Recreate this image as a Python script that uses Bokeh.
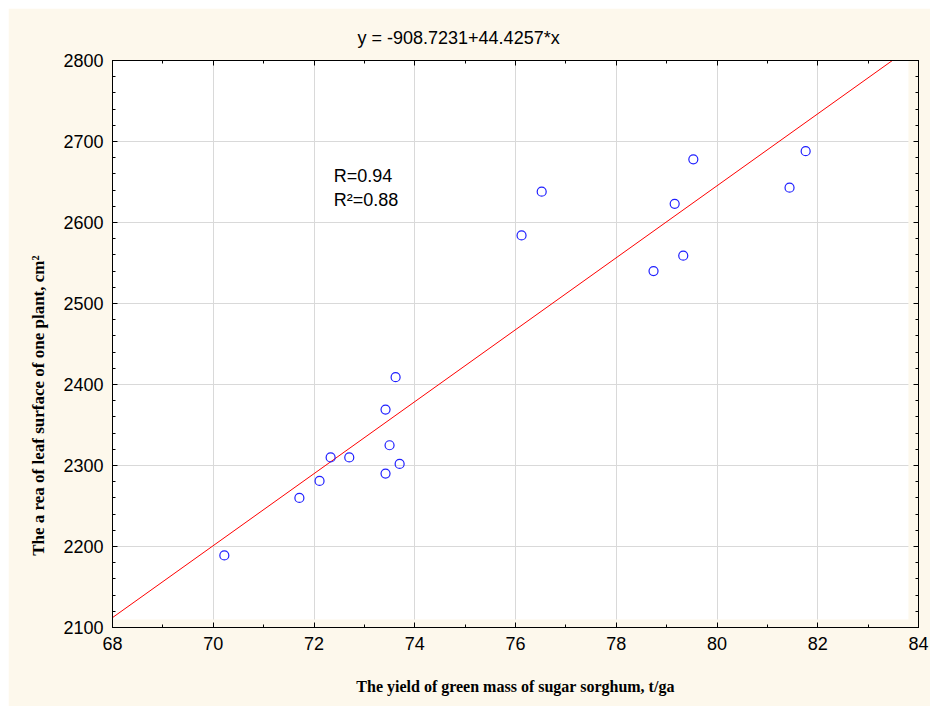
import math
from bokeh.plotting import figure
from bokeh.models import LinearAxis, Label, BoxAnnotation, Range1d, FixedTicker, Grid
from bokeh.embed import file_html
from bokeh.resources import INLINE

# ---- data ----
yield_x = [70.22, 71.71, 72.11, 72.33, 72.70, 73.42, 73.42, 73.50, 73.62, 73.70,
           76.12, 76.52, 78.74, 79.16, 79.33, 79.53, 81.44, 81.76]
leaf_area_y = [2189, 2260, 2281, 2310, 2310, 2369, 2290, 2325, 2409, 2302,
               2584, 2638, 2540, 2623, 2559, 2678, 2643, 2688]
intercept = -908.7231
slope = 44.4257
x_ticks = [68, 70, 72, 74, 76, 78, 80, 82, 84]
y_ticks = [2100, 2200, 2300, 2400, 2500, 2600, 2700, 2800]
title_text = "y = -908.7231+44.4257*x"
r_text = "R=0.94"
r2_text = "R\u00b2=0.88"
x_title = "The yield of green mass of sugar sorghum, t/ga"
y_title = "The a rea of leaf surface of one plant, cm\u00b2"

BEIGE = "#fdf8ec"
SANS = "Liberation Sans"
SERIF = "Liberation Serif"

p = figure(width=922, height=698, output_backend="svg", toolbar_location=None,
           x_range=Range1d(68, 84), y_range=Range1d(2100, 2800),
           x_axis_location=None, y_axis_location=None)
p.styles = {"margin-left": "8px", "margin-top": "8px"}
p.min_border_left = 104
p.min_border_right = 12
p.min_border_top = 52
p.min_border_bottom = 79
p.border_fill_color = BEIGE
p.background_fill_color = "white"
p.outline_line_color = "black"
p.outline_line_width = 1

p.title.text = title_text
p.title.text_font = SANS
p.title.text_font_size = "18px"
p.title.text_font_style = "normal"
p.title.text_color = "black"
p.title.align = "left"
p.title.offset = 245
p.title.standoff = 25


def make_axis(ticks, minor, labels):
    ax = LinearAxis(ticker=FixedTicker(ticks=ticks, minor_ticks=minor))
    ax.major_tick_in = 5
    ax.major_tick_out = 0
    ax.minor_tick_in = 3
    ax.minor_tick_out = 0
    ax.axis_line_color = "black"
    ax.major_tick_line_color = "black"
    ax.minor_tick_line_color = "black"
    if labels:
        ax.major_label_text_font = SANS
        ax.major_label_text_font_size = "18px"
        ax.major_label_text_color = "black"
        ax.major_label_standoff = 9
    else:
        ax.major_label_overrides = {t: "" for t in ticks}
        ax.major_label_standoff = 0
    return ax


x_minor = list(range(68, 85))
y_minor = list(range(2100, 2801, 20))

xb = make_axis(x_ticks, x_minor, True)
xb.axis_label = x_title
xb.axis_label_text_font = SERIF
xb.axis_label_text_font_size = "16px"
xb.axis_label_text_font_style = "bold"
xb.axis_label_text_color = "black"
xb.axis_label_standoff = 25
p.add_layout(xb, "below")

yl = make_axis(y_ticks, y_minor, True)
yl.axis_label = y_title + "\u00a0" * 29
yl.axis_label_text_font = SERIF
yl.axis_label_text_font_size = "17px"
yl.axis_label_text_font_style = "bold"
yl.axis_label_text_color = "black"
yl.axis_label_standoff = 12
p.add_layout(yl, "left")

p.add_layout(make_axis(x_ticks, x_minor, False), "above")
p.add_layout(make_axis(y_ticks, y_minor, False), "right")

p.add_layout(Grid(dimension=0, ticker=FixedTicker(ticks=x_ticks),
                  grid_line_color="#d9d9d9", grid_line_width=1))
p.add_layout(Grid(dimension=1, ticker=FixedTicker(ticks=y_ticks),
                  grid_line_color="#d9d9d9", grid_line_width=1))

# beige strips at right and bottom of the plot area
p.add_layout(BoxAnnotation(left=83.8, right=84.5, bottom=2050, top=2850,
                           fill_color=BEIGE, fill_alpha=1, line_alpha=0, level="glyph"))
p.add_layout(BoxAnnotation(left=67.5, right=84.5, bottom=2050, top=2109.9,
                           fill_color=BEIGE, fill_alpha=1, line_alpha=0, level="glyph"))

# regression line
lx = [68, 84]
ly = [intercept + slope * v for v in lx]
p.line(lx, ly, line_color="red", line_width=1)

# points
p.scatter(yield_x, leaf_area_y, marker="circle", size=9, fill_color=None,
          line_color="#1f1fff", line_width=1.2)

# R texts
p.add_layout(Label(x=72.39, y=2658, text=r_text, text_align="left",
                   text_baseline="middle", text_font=SANS, text_font_size="18px",
                   text_color="black"))
p.add_layout(Label(x=72.39, y=2628, text=r2_text, text_align="left",
                   text_baseline="middle", text_font=SANS, text_font_size="18px",
                   text_color="black"))

open("out.html", "w").write(file_html(p, INLINE))
